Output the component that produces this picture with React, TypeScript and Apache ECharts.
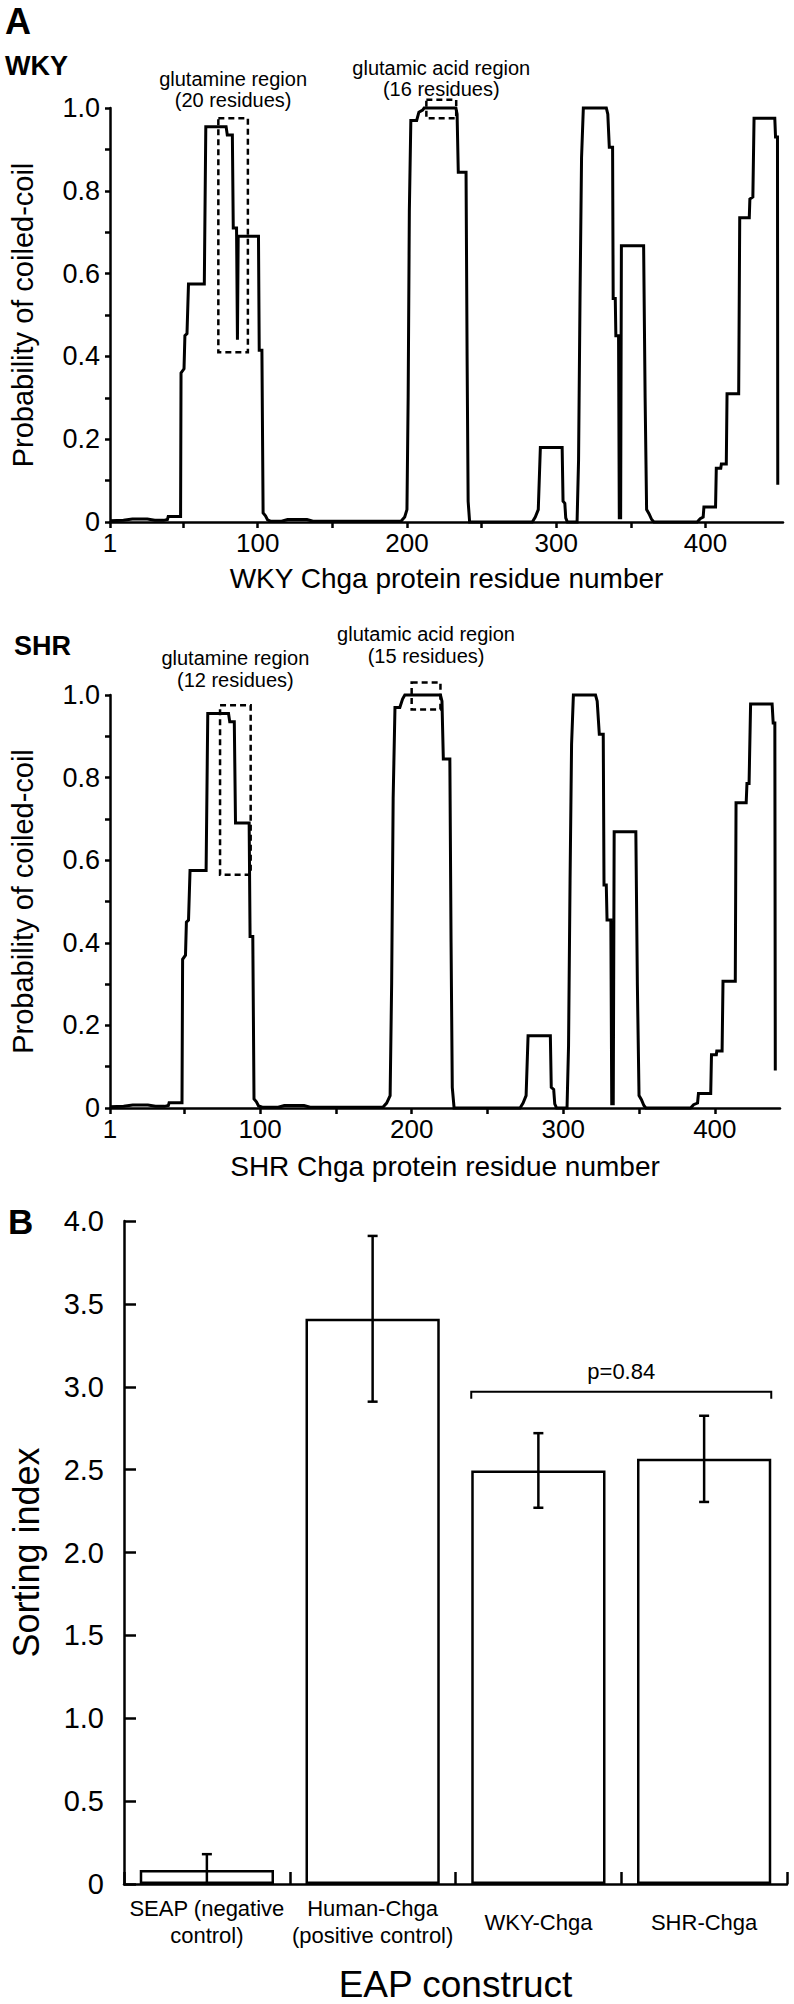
import React, { useEffect, useRef } from "react";
import * as echarts from "echarts";

const FONT = '"Liberation Sans", Arial, Helvetica, sans-serif';

// ---------- Panel A: coiled-coil probability profiles ----------
const wkyResidue = [
  1, 10, 16, 26, 31, 37, 39.5, 40, 48.3, 48.6, 50.6, 51.2, 52.6, 53.6, 64.2, 65.2, 78.8, 79.6, 83, 83.6,
  85.8, 86.4, 86.9, 100.5, 101, 102.8, 103.6, 105.2, 106.6, 108.5, 116, 120, 133, 137, 196, 198.5, 200,
  200.8, 201.6, 202.6, 206.5, 208, 210.5, 211.5, 232.8, 233.6, 234.4, 239.6, 240.3, 241, 242, 284, 286,
  288, 289.4, 304, 304.6, 305.8, 306.4, 307.5, 314, 315, 316, 317, 318.2, 333.6, 334.6, 335.6, 337.8,
  338.2, 339.6, 340, 341.8, 342.3, 343.2, 343.7, 358.6, 359.6, 360.6, 362.2, 364, 365.5, 394.5, 396.5,
  398.5, 399, 406.8, 407.3, 410.3, 410.7, 414, 414.5, 422.3, 423, 429.4, 429.8, 431.8, 432.6, 446.5, 447,
  448.3, 448.5,
];
const wkyProb = [
  0.003, 0.004, 0.007, 0.007, 0.004, 0.004, 0.006, 0.013, 0.013, 0.36, 0.37, 0.45, 0.455, 0.575, 0.575,
  0.955, 0.955, 0.935, 0.935, 0.71, 0.71, 0.44, 0.69, 0.69, 0.415, 0.415, 0.022, 0.015, 0.005, 0.002,
  0.002, 0.006, 0.006, 0.002, 0.002, 0.012, 0.03, 0.3, 0.75, 0.97, 0.97, 0.99, 0.995, 1.0, 1.0, 0.985,
  0.845, 0.845, 0.4, 0.05, 0.0, 0.0, 0.012, 0.03, 0.18, 0.18, 0.05, 0.045, 0.01, 0.0, 0.0, 0.15, 0.55,
  0.88, 1.0, 1.0, 0.985, 0.905, 0.905, 0.54, 0.54, 0.45, 0.45, 0.01, 0.01, 0.667, 0.667, 0.3, 0.03, 0.02,
  0.006, 0.0, 0.0, 0.008, 0.012, 0.036, 0.036, 0.13, 0.13, 0.14, 0.14, 0.31, 0.31, 0.735, 0.735, 0.78,
  0.785, 0.975, 0.975, 0.93, 0.93, 0.09,
];

const shrResidue = [
  1, 10, 16, 26, 31, 37, 39.5, 40, 48.5, 48.9, 50.8, 51.4, 52.8, 53.8, 64.4, 65.5, 79.2, 80, 83, 83.8,
  92.8, 93.4, 95.2, 96, 97.6, 99, 101.5, 112, 116, 129, 133, 181, 183.5, 185.8, 186.8, 187.8, 189, 192.2,
  194, 195.5, 219, 220, 220.9, 225.2, 226, 226.8, 228, 271.5, 273.5, 275.5, 276.8, 291.5, 292.1, 293.7,
  294.4, 295.6, 302.5, 303.5, 304.5, 305.5, 306.7, 321.3, 322.4, 323.8, 326.4, 326.9, 328.4, 328.9,
  331.4, 332, 333, 333.6, 347.9, 348.9, 350, 351.6, 353.2, 354.5, 384, 386, 388.6, 389.2, 397.3, 397.8,
  401, 401.3, 404.8, 405.4, 413.5, 414, 420.7, 421.2, 422.6, 423.6, 437.8, 438.5, 439.6, 439.9,
];
const shrProb = [
  0.003, 0.004, 0.007, 0.007, 0.004, 0.004, 0.006, 0.013, 0.013, 0.36, 0.37, 0.45, 0.455, 0.575, 0.575,
  0.955, 0.955, 0.935, 0.935, 0.69, 0.69, 0.415, 0.415, 0.022, 0.015, 0.005, 0.002, 0.002, 0.006, 0.006,
  0.002, 0.002, 0.012, 0.03, 0.3, 0.75, 0.97, 0.97, 0.99, 1.0, 1.0, 0.985, 0.845, 0.845, 0.4, 0.05, 0.0,
  0.0, 0.012, 0.03, 0.175, 0.175, 0.05, 0.045, 0.01, 0.0, 0.0, 0.15, 0.55, 0.88, 1.0, 1.0, 0.985, 0.905,
  0.905, 0.54, 0.54, 0.455, 0.455, 0.01, 0.01, 0.669, 0.669, 0.3, 0.03, 0.02, 0.006, 0.0, 0.0, 0.008,
  0.012, 0.035, 0.035, 0.129, 0.129, 0.138, 0.138, 0.307, 0.307, 0.739, 0.739, 0.786, 0.786, 0.978,
  0.978, 0.932, 0.932, 0.091,
];

const wkyAxisMax = 452;
const shrAxisMax = 443;
const residueTickValues = [1, 50, 100, 150, 200, 250, 300, 350, 400];
const residueLabelValues = [1, 100, 200, 300, 400];

// Highlighted regions (dashed boxes)
const wkyRegionNames = ["glutamine region", "glutamic acid region"];
const wkyRegionCounts = ["(20 residues)", "(16 residues)"];
const wkyRegionStart = [73.6, 213];
const wkyRegionEnd = [93.4, 233];
const wkyRegionLow = [0.41, 0.975];
const wkyRegionHigh = [0.975, 1.02];

const shrRegionNames = ["glutamine region", "glutamic acid region"];
const shrRegionCounts = ["(12 residues)", "(15 residues)"];
const shrRegionStart = [73.6, 200];
const shrRegionEnd = [93.8, 219];
const shrRegionLow = [0.565, 0.965];
const shrRegionHigh = [0.975, 1.03];

// ---------- Panel B: sorting index ----------
const constructs = [
  "SEAP (negative\ncontrol)",
  "Human-Chga\n(positive control)",
  "WKY-Chga",
  "SHR-Chga",
];
const sortingIndex = [0.085, 3.41, 2.495, 2.565];
const sortingError = [0.095, 0.5, 0.225, 0.26];
const pValueText = "p=0.84";
const pBracketFrom = 2;
const pBracketTo = 3;
const pBracketLevel = 2.97;

// label offsets (px) relative to the y=1.0 line: [line1, line2]
const wkyLabelOffsets = [[-29, -8], [-40, -19]];
const shrLabelOffsets = [[-37, -15], [-61, -39]];

const BLACK = "#000";
const AXIS_W = 2.5;
const TICK_FONT = 27;

function textStyle(text: string, size: number, extra: any = {}) {
  return {
    text,
    fontSize: size,
    fontFamily: FONT,
    fill: BLACK,
    align: "center",
    verticalAlign: "middle",
    textAlign: "center",
    textVerticalAlign: "middle",
    ...extra,
  };
}

function residueXAxis(gridIndex: number, max: number, name: string, nameGap: number) {
  return {
    type: "value",
    gridIndex,
    min: 1,
    max,
    name,
    nameLocation: "middle",
    nameGap,
    nameTextStyle: { fontSize: 28, color: BLACK, fontFamily: FONT },
    axisLine: { show: true, onZero: false, lineStyle: { color: BLACK, width: AXIS_W } },
    axisTick: {
      show: true,
      inside: false,
      length: 6,
      customValues: residueTickValues,
      lineStyle: { color: BLACK, width: AXIS_W },
    },
    axisLabel: {
      customValues: residueLabelValues,
      fontSize: TICK_FONT - 1,
      color: BLACK,
      margin: 8,
      fontFamily: FONT,
    },
    splitLine: { show: false },
  };
}

function probYAxis(gridIndex: number) {
  return {
    type: "value",
    gridIndex,
    min: 0,
    max: 1,
    interval: 0.1,
    name: "Probability of coiled-coil",
    nameLocation: "middle",
    nameGap: 73,
    nameRotate: 90,
    nameTextStyle: { fontSize: 29, color: BLACK, fontFamily: FONT },
    axisLine: { show: true, onZero: false, lineStyle: { color: BLACK, width: AXIS_W } },
    axisTick: { show: true, inside: false, length: 5, lineStyle: { color: BLACK, width: AXIS_W } },
    axisLabel: {
      fontSize: TICK_FONT,
      color: BLACK,
      margin: 10,
      fontFamily: FONT,
      formatter: (v: number) => {
        const k = Math.round(v * 10);
        if (k % 2 !== 0) return "";
        return k === 0 ? "0" : (k / 10).toFixed(1);
      },
    },
    splitLine: { show: false },
  };
}

function regionSeries(
  axisIndex: number,
  names: string[],
  counts: string[],
  starts: number[],
  ends: number[],
  lows: number[],
  highs: number[],
  offsets: number[][]
) {
  return {
    type: "custom",
    xAxisIndex: axisIndex,
    yAxisIndex: axisIndex,
    clip: false,
    silent: true,
    z: 5,
    data: starts.map((s, i) => [s, ends[i], lows[i], highs[i]]),
    encode: { x: [0, 1], y: [2, 3] },
    renderItem: (params: any, api: any) => {
      const i = params.dataIndex;
      const tl = api.coord([api.value(0), api.value(3)]);
      const br = api.coord([api.value(1), api.value(2)]);
      const oneY = api.coord([api.value(0), 1])[1];
      const cx = (tl[0] + br[0]) / 2;
      return {
        type: "group",
        children: [
          {
            type: "rect",
            shape: { x: tl[0], y: tl[1], width: br[0] - tl[0], height: br[1] - tl[1] },
            style: { fill: "none", stroke: BLACK, lineWidth: 2.5, lineDash: [6, 4] },
          },
          { type: "text", x: cx, y: oneY + offsets[i][0], style: textStyle(names[i], 20) },
          { type: "text", x: cx, y: oneY + offsets[i][1], style: textStyle(counts[i], 20) },
        ],
      };
    },
  };
}

function profileSeries(axisIndex: number, residues: number[], probs: number[]) {
  return {
    type: "line",
    xAxisIndex: axisIndex,
    yAxisIndex: axisIndex,
    data: residues.map((r, i) => [r, probs[i]]),
    showSymbol: false,
    symbol: "none",
    clip: false,
    z: 4,
    lineStyle: { color: BLACK, width: 3, join: "miter" },
    silent: true,
  };
}

export default function App() {
  const ref = useRef<HTMLDivElement>(null);

  useEffect(() => {
    if (!ref.current) return;
    const chart = echarts.init(ref.current, null, { renderer: "svg" });

    const option: any = {
      animation: false,
      backgroundColor: "#fff",
      textStyle: { fontFamily: FONT, color: BLACK },
      grid: [
        { left: 108, top: 108, width: 675, height: 414 },
        { left: 108, top: 695, width: 672, height: 413 },
        { left: 123, top: 1221, width: 664, height: 664 },
      ],
      xAxis: [
        residueXAxis(0, wkyAxisMax, "WKY Chga protein residue number", 42),
        residueXAxis(1, shrAxisMax, "SHR Chga protein residue number", 44),
        {
          type: "category",
          gridIndex: 2,
          data: constructs,
          boundaryGap: true,
          name: "EAP construct",
          nameLocation: "middle",
          nameGap: 82,
          nameTextStyle: { fontSize: 37, color: BLACK, fontFamily: FONT },
          axisLine: { show: true, lineStyle: { color: BLACK, width: AXIS_W } },
          axisTick: {
            show: true,
            inside: true,
            length: 12,
            alignWithLabel: false,
            lineStyle: { color: BLACK, width: AXIS_W },
          },
          axisLabel: {
            interval: 0,
            fontSize: 22,
            lineHeight: 27,
            margin: 38,
            verticalAlign: "middle",
            color: BLACK,
            fontFamily: FONT,
          },
          splitLine: { show: false },
        },
      ],
      yAxis: [
        probYAxis(0),
        probYAxis(1),
        {
          type: "value",
          gridIndex: 2,
          min: 0,
          max: 4,
          interval: 0.5,
          name: "Sorting index",
          nameLocation: "middle",
          nameGap: 80,
          nameRotate: 90,
          nameTextStyle: { fontSize: 36, color: BLACK, fontFamily: FONT },
          axisLine: { show: true, lineStyle: { color: BLACK, width: AXIS_W } },
          axisTick: { show: true, inside: true, length: 12, lineStyle: { color: BLACK, width: AXIS_W } },
          axisLabel: {
            fontSize: 29,
            color: BLACK,
            margin: 20,
            fontFamily: FONT,
            formatter: (v: number) => (v === 0 ? "0" : v.toFixed(1)),
          },
          splitLine: { show: false },
        },
      ],
      graphic: [
        { type: "text", x: 5, y: 21, style: textStyle("A", 36, { fontWeight: "bold", align: "left", textAlign: "left" }) },
        { type: "text", x: 5, y: 66, style: textStyle("WKY", 27, { fontWeight: "bold", align: "left", textAlign: "left" }) },
        { type: "text", x: 14, y: 646, style: textStyle("SHR", 27, { fontWeight: "bold", align: "left", textAlign: "left" }) },
        { type: "text", x: 8, y: 1221, style: textStyle("B", 35, { fontWeight: "bold", align: "left", textAlign: "left" }) },
      ],
      series: [
        profileSeries(0, wkyResidue, wkyProb),
        regionSeries(0, wkyRegionNames, wkyRegionCounts, wkyRegionStart, wkyRegionEnd, wkyRegionLow, wkyRegionHigh, wkyLabelOffsets),
        profileSeries(1, shrResidue, shrProb),
        regionSeries(1, shrRegionNames, shrRegionCounts, shrRegionStart, shrRegionEnd, shrRegionLow, shrRegionHigh, shrLabelOffsets),
        {
          type: "bar",
          xAxisIndex: 2,
          yAxisIndex: 2,
          data: sortingIndex,
          barWidth: "81%",
          silent: true,
          z: 2,
          itemStyle: { color: "#fff", borderColor: BLACK, borderWidth: 2.5 },
        },
        {
          type: "custom",
          xAxisIndex: 2,
          yAxisIndex: 2,
          silent: true,
          z: 6,
          data: sortingIndex.map((v, i) => [i, v, sortingError[i]]),
          encode: { x: 0, y: 1 },
          renderItem: (params: any, api: any) => {
            const i = api.value(0);
            const v = api.value(1);
            const e = api.value(2);
            const x = api.coord([i, v])[0];
            const top = api.coord([i, v + e])[1];
            const lowVal = Math.max(0, v - e);
            const bottom = api.coord([i, lowVal])[1];
            const hw = 5;
            const ls = { stroke: BLACK, lineWidth: 2.5 };
            const children: any[] = [
              { type: "line", shape: { x1: x, y1: top, x2: x, y2: bottom }, style: ls },
              { type: "line", shape: { x1: x - hw, y1: top, x2: x + hw, y2: top }, style: ls },
            ];
            if (v - e > 0) {
              children.push({ type: "line", shape: { x1: x - hw, y1: bottom, x2: x + hw, y2: bottom }, style: ls });
            }
            return { type: "group", children };
          },
        },
        {
          type: "custom",
          xAxisIndex: 2,
          yAxisIndex: 2,
          silent: true,
          z: 6,
          data: [[pBracketFrom, pBracketTo, pBracketLevel]],
          encode: { x: [0, 1], y: 2 },
          renderItem: (params: any, api: any) => {
            const a = api.value(0);
            const b = api.value(1);
            const lvl = api.value(2);
            const bw = api.size([1, 0])[0] * 0.81;
            const pa = api.coord([a, lvl]);
            const pb = api.coord([b, lvl]);
            const x1 = pa[0] - bw / 2;
            const x2 = pb[0] + bw / 2;
            const y = pa[1];
            return {
              type: "group",
              children: [
                {
                  type: "polyline",
                  shape: { points: [[x1, y + 7], [x1, y], [x2, y], [x2, y + 7]] },
                  style: { fill: "none", stroke: BLACK, lineWidth: 2 },
                },
                { type: "text", x: (x1 + x2) / 2, y: y - 20, style: textStyle(pValueText, 22) },
              ],
            };
          },
        },
      ],
    };

    chart.setOption(option);
    return () => chart.dispose();
  }, []);

  return (
    <div
      ref={ref}
      style={{ position: "absolute", left: 0, top: 0, width: 794, height: 2004, background: "#fff" }}
    />
  );
}
